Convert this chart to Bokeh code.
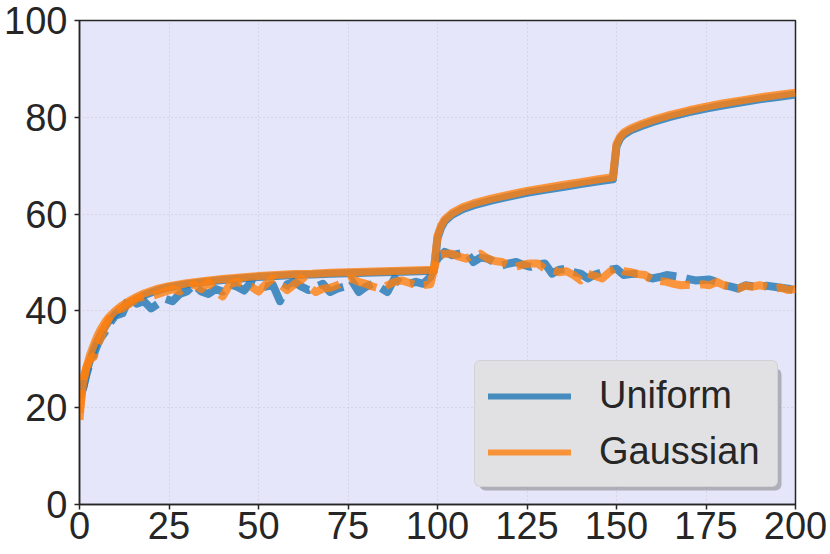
from bokeh.plotting import figure
from bokeh.models import Range1d, FixedTicker, Legend, LegendItem, BoxAnnotation
from bokeh.embed import file_html
from bokeh.resources import INLINE

# ---- data ----
train_epochs = [0, 1, 2, 3, 4, 5, 6, 7, 8, 9, 10, 12, 14, 16, 18, 20, 22, 25, 30, 35, 40, 45, 50,
                55, 60, 65, 70, 75, 80, 85, 90, 95, 99, 100, 101, 102, 104, 107, 110, 115, 120,
                125, 130, 135, 140, 145, 149, 150, 151, 152, 154, 157, 160, 165, 170, 175, 180,
                185, 190, 195, 200]
uniform_train = [22, 24, 27.5, 30, 32, 33.8, 35.3, 36.6, 37.7, 38.6, 39.4, 40.7, 41.7, 42.5, 43.2,
                 43.8, 44.3, 44.9, 45.5, 46, 46.4, 46.7, 47, 47.2, 47.4, 47.5, 47.7, 47.8, 47.9,
                 48, 48.1, 48.2, 48.3, 55, 57.2, 58.5, 59.8, 61, 61.8, 62.8, 63.6, 64.4, 65,
                 65.6, 66.2, 66.8, 67.2, 74, 75.6, 76.4, 77.3, 78.2, 79, 80.1, 81, 81.8, 82.5,
                 83.1, 83.7, 84.2, 84.7]
gaussian_train = [19, 25, 28.5, 31, 33, 34.8, 36.3, 37.5, 38.5, 39.3, 40, 41.2, 42.1, 42.9, 43.6,
                  44.1, 44.6, 45.1, 45.7, 46.2, 46.6, 46.9, 47.2, 47.4, 47.6, 47.7, 47.9, 48,
                  48.1, 48.2, 48.3, 48.4, 48.5, 55.5, 57.6, 58.9, 60.2, 61.4, 62.2, 63.2, 64,
                  64.8, 65.4, 66, 66.6, 67.2, 67.6, 74.5, 76, 76.8, 77.7, 78.6, 79.4, 80.5, 81.4,
                  82.2, 82.9, 83.5, 84.1, 84.6, 85.1]

test_epochs = [0, 1, 2, 3, 4, 5, 6, 7, 8, 9, 10] + list(range(12, 201, 2))
uniform_test = [22.5, 24, 27, 29.5, 31, 33, 34.5, 35.5, 37, 38, 39,
                39.5, 43, 41.5, 42, 40.5, 41.5, 42.5, 42, 43.5, 44,
                45.5, 44, 43.5, 44.5, 44, 45.5, 45, 44.2, 46, 45.5,
                45, 45.4, 42, 45.5, 46, 45, 44.3, 45, 45.6, 43.9,
                44.6, 45, 46.3, 43.9, 45, 45.6, 44.8, 43.9, 46.7, 45.6,
                45.6, 46, 45.6, 47, 50.8, 52.2, 51.5, 51.8, 52.2, 50.1,
                51, 50.8, 50, 49.4, 49.8, 50.1, 49.5, 49.1, 49.6, 49.8,
                47.7, 48.5, 48.7, 48, 47.7, 46.7, 47.5, 48, 48.5, 48.7,
                47.4, 47.6, 47.7, 47.2, 46.7, 47, 47.4, 47.2, 47, 46.6,
                46.3, 46.4, 46.5, 46, 45.3, 45, 44.6, 45.3, 45.1, 45,
                45.2, 45, 44.8, 44.6, 44.2]
gaussian_test = [17.5, 26, 28.5, 30, 30.5, 33, 34.5, 36.5, 38, 39.5, 40,
                 40.5, 41.5, 42.5, 43, 43, 43.5, 44, 44.5, 44, 45,
                 45.5, 44.5, 46, 44, 43, 45.5, 46, 45.5, 45, 44,
                 45.5, 46.7, 45.5, 44.3, 45.5, 46.7, 45, 43.9, 44.6, 44.8,
                 45.3, 46, 46.7, 46, 45.6, 45, 44.6, 45.3, 46, 46.3,
                 45.8, 45.3, 45.3, 45.5, 51.5, 51.8, 51.8, 51.2, 50.8, 51.5,
                 51.8, 50.8, 50.3, 50.1, 49.5, 49.1, 49.6, 49.8, 49.8, 48.7,
                 48.5, 48, 48.2, 47.4, 46.3, 47.7, 47.2, 46.7, 48, 49,
                 48.2, 48, 47.6, 47.4, 46.3, 46.2, 46, 45.6, 45.3, 45.4,
                 45.3, 45.5, 45.3, 46, 45.3, 45, 44.6, 45.2, 45, 45.3,
                 45, 44.6, 44.8, 44.3, 44.5]

x_ticks = [0, 25, 50, 75, 100, 125, 150, 175, 200]
y_ticks = [0, 20, 40, 60, 80, 100]
labels = ["Uniform", "Gaussian"]

BLUE = "#1f77b4"
ORANGE = "#ff7f0e"
FONT = "Liberation Sans"
DARK = "#262626"

W, H = 830, 554
BL, BR, BT, BB = 79, 35, 20, 50

p = figure(width=W, height=H, output_backend="svg", toolbar_location=None,
           x_range=Range1d(0, 200), y_range=Range1d(0, 100),
           min_border_left=BL, min_border_right=BR, min_border_top=BT, min_border_bottom=BB)

p.background_fill_color = "#e6e6fa"
p.border_fill_color = "white"
p.outline_line_color = DARK
p.outline_line_width = 1.5

for ax, ticks in ((p.xaxis, x_ticks), (p.yaxis, y_ticks)):
    ax.ticker = FixedTicker(ticks=ticks)
    ax.major_label_text_font = FONT
    ax.major_label_text_font_size = "38px"
    ax.major_label_text_color = DARK
    ax.axis_line_color = DARK
    ax.axis_line_width = 1.5
    ax.major_tick_line_color = DARK
    ax.major_tick_line_width = 1.5
    ax.major_tick_out = 5
    ax.major_tick_in = 0
    ax.minor_tick_line_color = None
p.xaxis.major_label_standoff = 2
p.yaxis.major_label_standoff = 7

p.grid.grid_line_color = "#c4c4cc"
p.grid.grid_line_dash = "1 3"
p.grid.grid_line_width = 1

LW = 8
p.line(train_epochs, uniform_train, line_color=BLUE, line_alpha=0.8, line_width=LW, line_join="round")
p.line(test_epochs, uniform_test, line_color=BLUE, line_alpha=0.8, line_width=LW, line_join="round",
       line_dash="30 10")
p.line(train_epochs, gaussian_train, line_color=ORANGE, line_alpha=0.8, line_width=LW, line_join="round")
p.line(test_epochs, gaussian_test, line_color=ORANGE, line_alpha=0.8, line_width=LW, line_join="round",
       line_dash="30 10")

# legend proxies (thinner lines, as in the reference legend); a NaN point draws nothing
nan = float("nan")
lb = p.line([0], [nan], line_color=BLUE, line_alpha=0.8, line_width=6, line_cap="round")
lo = p.line([0], [nan], line_color=ORANGE, line_alpha=0.8, line_width=6, line_cap="round")

# legend geometry (pixels)
L_MARGIN, L_W, L_H, SH = 17, 302, 122, 3
frame_w = W - BL - BR
frame_h = H - BT - BB
sx = 200 / frame_w
sy = 100 / frame_h
shadow = BoxAnnotation(left=200 - (L_MARGIN + L_W - SH) * sx, right=200 - (L_MARGIN - SH) * sx,
                       bottom=(L_MARGIN - SH) * sy, top=(L_MARGIN + L_H - SH) * sy,
                       fill_color="#8a8a8e", fill_alpha=0.6, line_color=None)
if "border_radius" in BoxAnnotation.properties():
    shadow.border_radius = 6
p.add_layout(shadow)

legend = Legend(items=[LegendItem(label=labels[0], renderers=[lb]),
                       LegendItem(label=labels[1], renderers=[lo])],
                location="bottom_right")
legend.margin = L_MARGIN
legend.padding = 13
legend.spacing = 13
legend.glyph_width = 83
legend.glyph_height = 42
legend.label_height = 42
legend.label_width = 165
legend.label_standoff = 28
legend.label_text_font = FONT
legend.label_text_font_size = "38px"
legend.label_text_color = DARK
legend.background_fill_color = "#e1e1e4"
legend.background_fill_alpha = 1.0
legend.border_line_color = "#c4c4c8"
legend.border_line_width = 1.5
if "border_radius" in Legend.properties():
    legend.border_radius = 6
p.add_layout(legend)

open("out.html", "w").write(file_html(p, INLINE))
